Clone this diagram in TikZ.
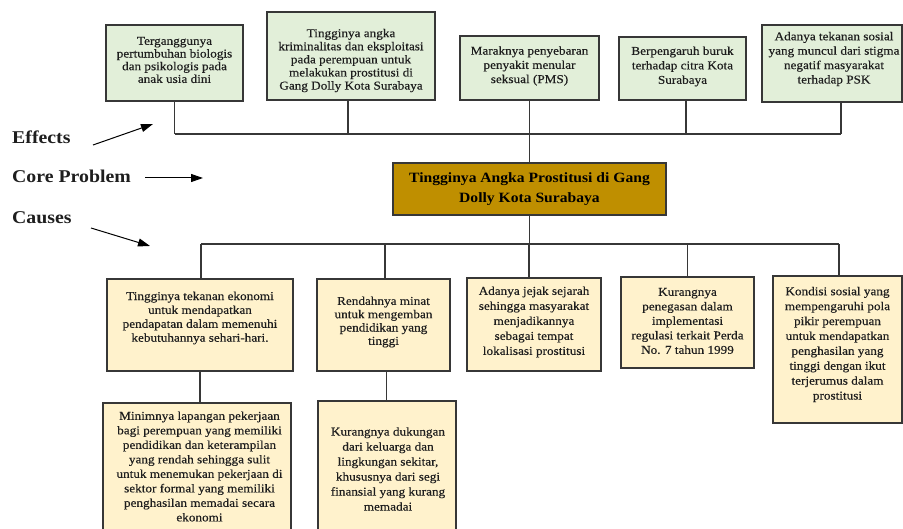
\documentclass[tikz,border=0pt]{standalone}
\usepackage{fontspec}
\setmainfont{Liberation Serif}[FakeStretch=1.1, UprightFeatures={FakeBold=0.35}]
\usetikzlibrary{arrows.meta}
\definecolor{effectfill}{RGB}{226,239,217}
\definecolor{causefill}{RGB}{255,242,204}
\definecolor{corefill}{RGB}{191,143,0}
\definecolor{edge}{RGB}{55,55,55}
\definecolor{ink}{RGB}{30,30,30}
\tikzset{
 box/.style={draw=edge, line width=1.3pt, rectangle, inner sep=0pt},
 effect/.style={box, fill=effectfill},
 cause/.style={box, fill=causefill},
 txt/.style={inner sep=0pt, align=center, text=ink, font=\fontsize{12}{#1}\selectfont},
 corebox/.style={box, fill=corefill, align=center, text=black, font=\fontsize{14.2}{20}\selectfont\bfseries},
 link/.style={draw=edge, line width=1.2pt},
 lbl/.style={font=\fontsize{18}{20}\selectfont\bfseries, text=ink, anchor=west, inner sep=0pt},
 pointer/.style={draw=black, line width=1pt, -{Triangle[length=12pt,width=8pt]}},
}
\begin{document}
\begin{tikzpicture}[x=1pt,y=-1pt]
\clip (0,0) rectangle (903,529);
\fill[white] (0,0) rectangle (903,529);

% effects
\node[effect, minimum width=137pt, minimum height=76pt] (E1) at (174.5,63) {};
\node[txt=12.7] (E1t) at (174.5,60) {Terganggunya\\pertumbuhan biologis\\dan psikologis pada\\anak usia dini};
\node[effect, minimum width=168pt, minimum height=88pt] (E2) at (351,56) {};
\node[txt=13.1] (E2t) at (351,60.5) {Tingginya angka\\kriminalitas dan eksploitasi\\pada perempuan untuk\\melakukan prostitusi di\\Gang Dolly Kota Surabaya};
\node[effect, minimum width=139pt, minimum height=64pt] (E3) at (529.5,68) {};
\node[txt=14.2] (E3t) at (529.5,66) {Maraknya penyebaran\\penyakit menular\\seksual (PMS)};
\node[effect, minimum width=127pt, minimum height=63pt] (E4) at (682.5,68.5) {};
\node[txt=14.5] (E4t) at (682.5,66.5) {Berpengaruh buruk\\terhadap citra Kota\\Surabaya};
\node[effect, minimum width=140pt, minimum height=77pt] (E5) at (832,63.5) {};
\node[txt=14.4] (E5t) at (834,59) {Adanya tekanan sosial\\yang muncul dari stigma\\negatif masyarakat\\terhadap PSK};

% core
\node[corebox, minimum width=273pt, minimum height=52pt] (core) at (529.5,189) {Tingginya Angka Prostitusi di Gang\\Dolly Kota Surabaya};

% causes
\node[cause, minimum width=186pt, minimum height=92pt] (C1) at (200,325) {};
\node[txt=13.9] (C1t) at (200,318) {Tingginya tekanan ekonomi\\untuk mendapatkan\\pendapatan dalam memenuhi\\kebutuhannya sehari-hari.};
\node[cause, minimum width=133pt, minimum height=92pt] (C2) at (383.5,325) {};
\node[txt=13.3] (C2t) at (383.5,322) {Rendahnya minat\\untuk mengemban\\pendidikan yang\\tinggi};
\node[cause, minimum width=134pt, minimum height=93pt] (C3) at (534,324.5) {};
\node[txt=15] (C3t) at (534,322) {Adanya jejak sejarah\\sehingga masyarakat\\menjadikannya\\sebagai tempat\\lokalisasi prostitusi};
\node[cause, minimum width=133pt, minimum height=91pt] (C4) at (687.5,322.5) {};
\node[txt=14.5] (C4t) at (687.5,321) {Kurangnya\\penegasan dalam\\implementasi\\regulasi terkait Perda\\No. 7 tahun 1999};
\node[cause, minimum width=129pt, minimum height=147pt] (C5) at (837.5,349.5) {};
\node[txt=14.9] (C5t) at (837.5,344.5) {Kondisi sosial yang\\mempengaruhi pola\\pikir perempuan\\untuk mendapatkan\\penghasilan yang\\tinggi dengan ikut\\terjerumus dalam\\prostitusi};
\node[cause, minimum width=188pt, minimum height=136pt] (D1) at (197,471) {};
\node[txt=14.5] (D1t) at (199.5,466.5) {Minimnya lapangan pekerjaan\\bagi perempuan yang memiliki\\pendidikan dan keterampilan\\yang rendah sehingga sulit\\untuk menemukan pekerjaan di\\sektor formal yang memiliki\\penghasilan memadai secara\\ekonomi};
\node[cause, minimum width=138pt, minimum height=144pt] (D2) at (387,473) {};
\node[txt=15] (D2t) at (388,469) {Kurangnya dukungan\\dari keluarga dan\\lingkungan sekitar,\\khususnya dari segi\\finansial yang kurang\\memadai};

% effect tree
\coordinate (bE1) at (175,134);
\coordinate (bE5) at (841,134);
\draw[link] (bE1) -- (bE5);
\draw[link] (E1.south) -- (E1.south |- bE1);
\draw[link] ([xshift=-3pt]E2.south) -- ([xshift=-3pt]E2.south |- bE1);
\draw[link] (E3.south) -- (core.north);
\draw[link] ([xshift=3.5pt]E4.south) -- ([xshift=3.5pt]E4.south |- bE1);
\draw[link] ([xshift=9pt]E5.south) -- (bE5);

% cause tree
\coordinate (bC1) at (201,244);
\coordinate (bC5) at (839,244);
\draw[link] (bC1) -- (bC5);
\draw[link] (core.south) -- (core.south |- bC1);
\draw[link] (bC1) -- (bC1 |- C1.north);
\draw[link] ([xshift=1.5pt]C2.north) -- ([xshift=1.5pt]C2.north |- bC1);
\draw[link] ([xshift=-5pt]C3.north) -- ([xshift=-5pt]C3.north |- bC1);
\draw[link] (C4.north) -- (C4.north |- bC1);
\draw[link] (bC5) -- (bC5 |- C5.north);
\draw[link] (C1.south) -- (C1.south |- D1.north);
\draw[link] ([xshift=3pt]C2.south) -- ([xshift=3pt]C2.south |- D2.north);

% side labels
\node[lbl] (Leff) at (12,137.5) {Effects};
\node[lbl] (Lcore) at (12,176) {Core Problem};
\node[lbl] (Lcau) at (12,217.5) {Causes};
\coordinate (Seff) at (93,145);
\coordinate (Aeff) at (153,124);
\coordinate (Score) at (145,178);
\coordinate (Acore) at (203,178);
\coordinate (Scau) at (91,228);
\coordinate (Acau) at (150,246);
\draw[pointer] (Seff) -- (Aeff);
\draw[pointer] (Score) -- (Acore);
\draw[pointer] (Scau) -- (Acau);
\end{tikzpicture}
\end{document}
